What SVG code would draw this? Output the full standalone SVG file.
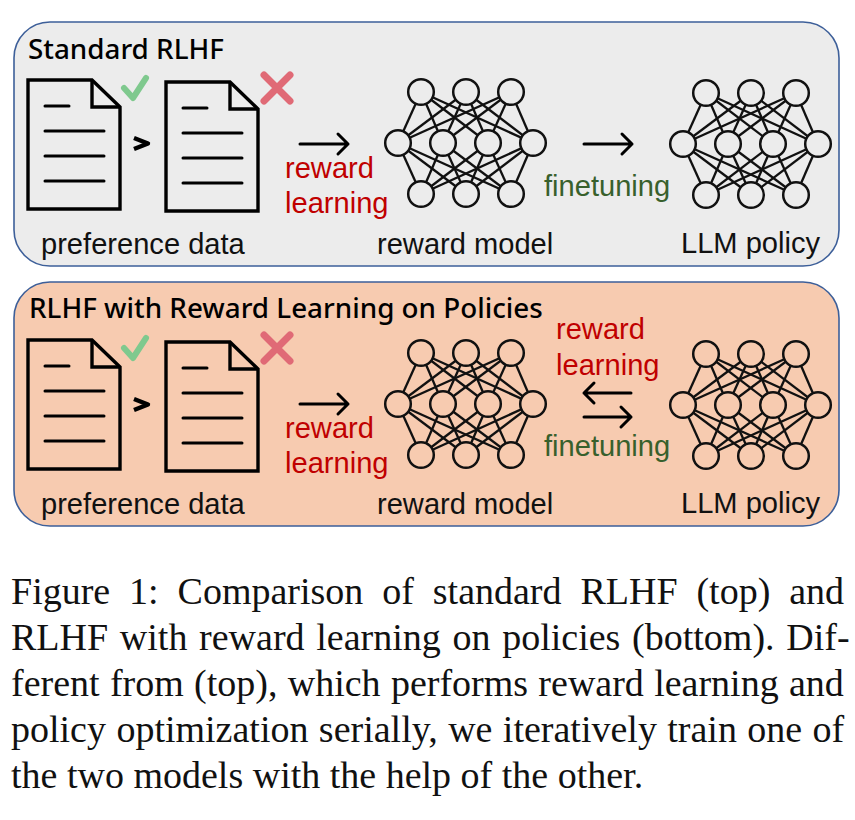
<svg xmlns="http://www.w3.org/2000/svg" xmlns:xlink="http://www.w3.org/1999/xlink" width="855" height="820" viewBox="0 0 855 820">
<style>
.panel{stroke:#3d5f99;stroke-width:1.6}
.lbl{font-family:"Liberation Sans",Arial,sans-serif;font-size:29.1px;fill:#111}
.red{font-family:"Liberation Sans",Arial,sans-serif;font-size:29.1px;fill:#c00000}
.green{font-family:"Liberation Sans",Arial,sans-serif;font-size:29.1px;fill:#38602c}
.title{font-family:"Noto Sans",sans-serif;font-size:27.8px;font-weight:500;fill:#000}
.cap{font-family:"Liberation Serif","Times New Roman",serif;font-size:38px;fill:#111}
.ink{fill:none;stroke:#000;stroke-width:3;stroke-linecap:round;stroke-linejoin:round}
.doc{fill:none;stroke:#000;stroke-width:3.4;stroke-linejoin:miter}
.net line{stroke:#111;stroke-width:2.3}
.net circle{stroke:#111;stroke-width:2.5}
.chk{fill:none;stroke:#7fc98e;stroke-width:6;stroke-linecap:round;stroke-linejoin:round}
.x{fill:none;stroke:#e06a76;stroke-width:7;stroke-linecap:round}
.gt{fill:none;stroke:#000;stroke-width:4.4;stroke-linejoin:round}
.arr{fill:none;stroke:#000;stroke-width:3;stroke-linecap:round;stroke-linejoin:round}
</style>
<defs>
<g id="doc-icon">
<path class="doc" d="M0 0H64L92 27V129H0Z"/>
<path class="doc" d="M64 0V27H92"/>
<path class="ink" d="M17 26H41M17 51H76M17 76H76M17 101H76"/>
</g>
<g id="net" class="net">
<line x1="23" y1="0" x2="0" y2="51"/><line x1="23" y1="0" x2="45" y2="51"/><line x1="23" y1="0" x2="90" y2="51"/><line x1="23" y1="0" x2="135" y2="51"/>
<line x1="68" y1="0" x2="0" y2="51"/><line x1="68" y1="0" x2="45" y2="51"/><line x1="68" y1="0" x2="90" y2="51"/><line x1="68" y1="0" x2="135" y2="51"/>
<line x1="113" y1="0" x2="0" y2="51"/><line x1="113" y1="0" x2="45" y2="51"/><line x1="113" y1="0" x2="90" y2="51"/><line x1="113" y1="0" x2="135" y2="51"/>
<line x1="23" y1="102" x2="0" y2="51"/><line x1="23" y1="102" x2="45" y2="51"/><line x1="23" y1="102" x2="90" y2="51"/><line x1="23" y1="102" x2="135" y2="51"/>
<line x1="68" y1="102" x2="0" y2="51"/><line x1="68" y1="102" x2="45" y2="51"/><line x1="68" y1="102" x2="90" y2="51"/><line x1="68" y1="102" x2="135" y2="51"/>
<line x1="113" y1="102" x2="0" y2="51"/><line x1="113" y1="102" x2="45" y2="51"/><line x1="113" y1="102" x2="90" y2="51"/><line x1="113" y1="102" x2="135" y2="51"/>
<circle cx="23" cy="0" r="12.8"/><circle cx="68" cy="0" r="12.8"/><circle cx="113" cy="0" r="12.8"/>
<circle cx="0" cy="51" r="12.8"/><circle cx="45" cy="51" r="12.8"/><circle cx="90" cy="51" r="12.8"/><circle cx="135" cy="51" r="12.8"/>
<circle cx="23" cy="102" r="12.8"/><circle cx="68" cy="102" r="12.8"/><circle cx="113" cy="102" r="12.8"/>
</g>
</defs>

<g id="panel-standard">
<rect class="panel" x="14" y="22" width="825" height="244" rx="36" fill="#ececec"/>
<text class="title" x="28" y="59">Standard RLHF</text>
</g>
<g id="panel-rlp">
<rect class="panel" x="14" y="282" width="825" height="244" rx="36" fill="#f7cbb0"/>
<text class="title" x="29" y="318">RLHF with Reward Learning on Policies</text>
</g>

<g id="top-preference-data">
<use xlink:href="#doc-icon" x="28" y="80"/>
<path class="chk" d="M124 88L133 98L146 78"/>
<path class="gt" d="M134 138L148 143.500L134 149"/>
<use xlink:href="#doc-icon" x="166" y="82"/>
<path class="x" d="M264 75L290 101M290 75L264 101"/>
<text class="lbl" x="41" y="254">preference data</text>
</g>
<g id="top-reward-model" fill="#ececec">
<use xlink:href="#net" x="398" y="92"/>
<text class="lbl" x="377" y="254">reward model</text>
</g>
<g id="top-llm-policy" fill="#ececec">
<use xlink:href="#net" x="683" y="93"/>
<text class="lbl" x="681" y="253">LLM policy</text>
</g>

<g id="bottom-preference-data">
<use xlink:href="#doc-icon" x="28" y="340"/>
<path class="chk" d="M124 348L133 358L146 338"/>
<path class="gt" d="M134 399L148 404.500L134 410"/>
<use xlink:href="#doc-icon" x="166" y="342"/>
<path class="x" d="M264 335L290 361M290 335L264 361"/>
<text class="lbl" x="41" y="514">preference data</text>
</g>
<g id="bottom-reward-model" fill="#f7cbb0">
<use xlink:href="#net" x="398" y="353"/>
<text class="lbl" x="377" y="514">reward model</text>
</g>
<g id="bottom-llm-policy" fill="#f7cbb0">
<use xlink:href="#net" x="683" y="354"/>
<text class="lbl" x="681" y="513">LLM policy</text>
</g>

<g id="connectors">
<path class="arr" d="M300 144H348M338 134L348 144L338 154"/>
<path class="arr" d="M584 144H632M622 134L632 144L622 154"/>
<path class="arr" d="M300 404H348M338 394L348 404L338 414"/>
<path class="arr" d="M631 393H584M594 383L584 393L594 403"/>
<path class="arr" d="M584 417H631M621 407L631 417L621 427"/>
</g>

<g id="connector-labels">
<text class="red" x="285" y="178">reward</text>
<text class="red" x="285" y="213">learning</text>
<text class="green" x="544" y="196">finetuning</text>
<text class="red" x="285" y="438">reward</text>
<text class="red" x="285" y="473">learning</text>
<text class="red" x="556" y="339">reward</text>
<text class="red" x="556" y="375">learning</text>
<text class="green" x="544" y="456">finetuning</text>
</g>

<g id="caption">
<text class="cap" x="11" y="604" word-spacing="9.400">Figure 1: Comparison of standard RLHF (top) and</text>
<text class="cap" x="11" y="650" word-spacing="2.200">RLHF with reward learning on policies (bottom). Dif-</text>
<text class="cap" x="11" y="696" word-spacing="0.800">ferent from (top), which performs reward learning and</text>
<text class="cap" x="11" y="742" word-spacing="0.900">policy optimization serially, we iteratively train one of</text>
<text class="cap" x="11" y="788">the two models with the help of the other.</text>
</g>
</svg>
